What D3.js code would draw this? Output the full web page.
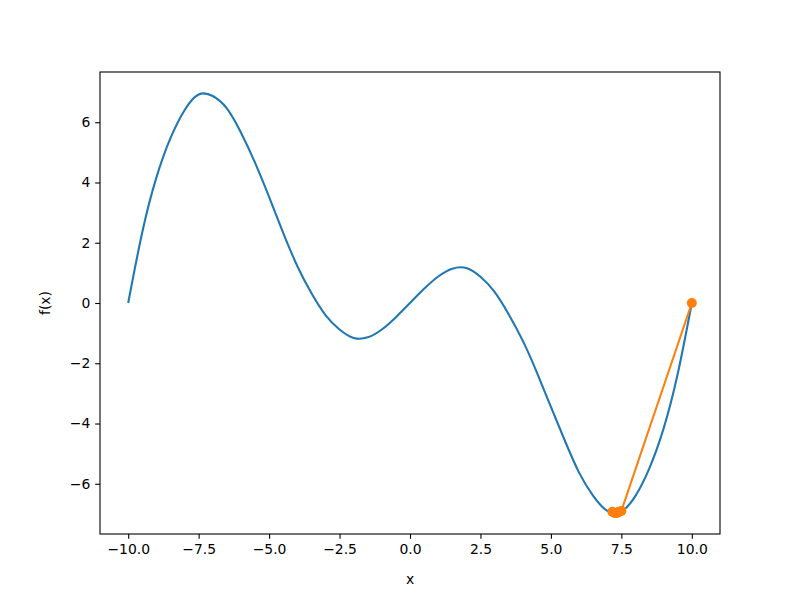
<!DOCTYPE html>
<html>
<head>
<meta charset="utf-8">
<script src="https://cdn.jsdelivr.net/npm/d3@7"></script>
<style>
  body { margin: 0; background: #fff; }
  text { font-family: "DejaVu Sans", sans-serif; }
</style>
</head>
<body>
<div id="chart"></div>
<script>
// curve f(x), every 0.5
const curveX = [-10, -9.5, -9, -8.5, -8, -7.5, -7, -6.5, -6,
  -5.5, -5, -4.5, -4, -3.5, -3, -2.5, -2, -1.5, -1, -0.5,
  0, 0.5, 1, 1.5, 2, 2.5, 3, 3.5, 4, 4.5,
  5, 5.5, 6, 6.5, 7, 7.5, 8, 8.5, 9, 9.5, 10];
const curveY = [0, 2.35, 4.16, 5.47, 6.40, 6.92, 6.87, 6.46, 5.66,
  4.66, 3.52, 2.33, 1.23, 0.33, -0.40, -0.88, -1.16, -1.14, -0.88, -0.47,
  0, 0.47, 0.88, 1.14, 1.16, 0.87, 0.37, -0.37, -1.25, -2.30,
  -3.45, -4.58, -5.63, -6.40, -6.90, -6.92, -6.40, -5.47, -4.16, -2.35, 0];

// descent steps (orange)
const stepX = [10, 7.50, 7.18, 7.42, 7.24, 7.36, 7.28, 7.33, 7.30];
const stepY = [0, -6.90, -6.93, -6.93, -6.96, -6.96, -6.97, -6.97, -6.97];

const xTicks = [-10, -7.5, -5, -2.5, 0, 2.5, 5, 7.5, 10];
const yTicks = [-6, -4, -2, 0, 2, 4, 6];

const W = 800, H = 600;
const margin = { top: 72, right: 80, bottom: 66, left: 100 };
const width = W - margin.left - margin.right;
const height = H - margin.top - margin.bottom;

const svg = d3.select("#chart").append("svg")
  .attr("width", W).attr("height", H);
const g = svg.append("g").attr("transform", `translate(${margin.left},${margin.top})`);

const xMin = d3.min(curveX), xMax = d3.max(curveX);
const yLo = -6.97, yHi = 6.97; // extremes of the curve
const xPad = (xMax - xMin) * 0.05, yPad = (yHi - yLo) * 0.05;

const x = d3.scaleLinear().domain([xMin - xPad, xMax + xPad]).range([0, width]);
const y = d3.scaleLinear().domain([yLo - yPad, yHi + yPad]).range([height, 0]);

const fmtMinus = (s) => s.replace("-", "\u2212");

const xAxis = d3.axisBottom(x).tickValues(xTicks)
  .tickFormat((d) => fmtMinus(d3.format(".1f")(d)))
  .tickSize(4.86).tickPadding(4.86).tickSizeOuter(0);
const yAxis = d3.axisLeft(y).tickValues(yTicks)
  .tickFormat((d) => fmtMinus(d3.format("d")(d)))
  .tickSize(4.86).tickPadding(4.86).tickSizeOuter(0);

const gx = g.append("g").attr("transform", `translate(0,${height})`).call(xAxis);
const gy = g.append("g").call(yAxis);
[gx, gy].forEach((a) => {
  a.select(".domain").remove();
  a.selectAll("line").attr("stroke", "#000").attr("stroke-width", 1.1);
  a.selectAll("text").attr("fill", "#000").style("font-size", "13.9px")
    .style("font-family", "'DejaVu Sans', sans-serif");
});

g.append("path")
  .datum(curveX.map((v, i) => [v, curveY[i]]))
  .attr("fill", "none")
  .attr("stroke", "#1f77b4")
  .attr("stroke-width", 2.08)
  .attr("stroke-linejoin", "round")
  .attr("d", d3.line().x((d) => x(d[0])).y((d) => y(d[1])).curve(d3.curveNatural));

const steps = stepX.map((v, i) => [v, stepY[i]]);
g.append("path")
  .datum(steps)
  .attr("fill", "none")
  .attr("stroke", "#ff7f0e")
  .attr("stroke-width", 2.08)
  .attr("d", d3.line().x((d) => x(d[0])).y((d) => y(d[1])));

g.selectAll(".step")
  .data(steps)
  .enter()
  .append("circle")
  .attr("class", "step")
  .attr("cx", (d) => x(d[0]))
  .attr("cy", (d) => y(d[1]))
  .attr("r", 5)
  .attr("fill", "#ff7f0e");

g.append("rect")
  .attr("width", width).attr("height", height)
  .attr("fill", "none").attr("stroke", "#000").attr("stroke-width", 1.1);

g.append("text")
  .attr("x", width / 2).attr("y", height + 50)
  .attr("text-anchor", "middle")
  .style("font-size", "13.9px")
  .text("x");

g.append("text")
  .attr("transform", `translate(${45 - margin.left},${height / 2}) rotate(-90)`)
  .attr("text-anchor", "middle")
  .attr("dy", "0.35em")
  .style("font-size", "13.9px")
  .text("f(x)");
</script>
</body>
</html>
